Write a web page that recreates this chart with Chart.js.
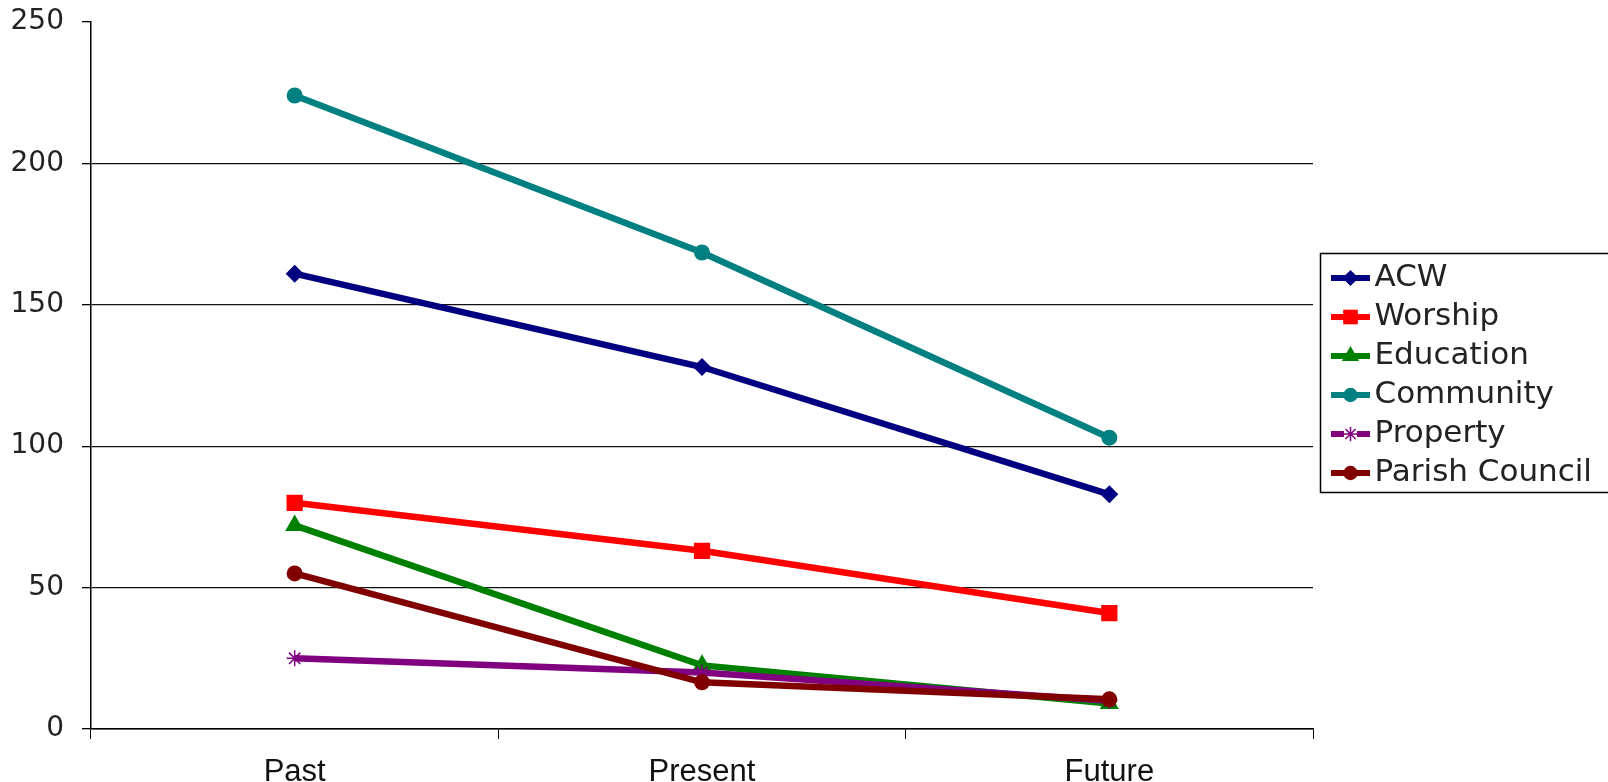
<!DOCTYPE html>
<html>
<head>
<meta charset="utf-8">
<script src="https://cdn.jsdelivr.net/npm/chart.js@4/dist/chart.umd.min.js"></script>
<style>
  html, body { margin: 0; padding: 0; background: #fff; }
  #wrap { width: 1608px; height: 782px; position: relative; }
</style>
</head>
<body>
<div id="wrap"><canvas id="grafico"></canvas></div>
<script>
  // dados
  const categorias = ["Past", "Present", "Future"];
  const acw = [161, 128, 83];
  const worship = [80, 63, 41];
  const education = [72, 22.5, 9];
  const community = [224, 168.5, 103];
  const property = [25, 20, 10];
  const parishCouncil = [55, 16.5, 10.5];
  const yMin = 0, yMax = 250, yPasso = 50;

  const series = [
    { label: "ACW", data: acw, cor: "#000080", estilo: "rectRot", raio: 9 },
    { label: "Worship", data: worship, cor: "#ff0000", estilo: "rect", raio: 11.5 },
    { label: "Education", data: education, cor: "#008000", estilo: "triangle", raio: 11 },
    { label: "Community", data: community, cor: "#008080", estilo: "circle", raio: 8 },
    { label: "Property", data: property, cor: "#800080", estilo: "star", raio: 8 },
    { label: "Parish Council", data: parishCouncil, cor: "#800000", estilo: "circle", raio: 8 },
  ];

  // desenha o marcador num canvas qualquer
  function desenhaMarcador(ctx, estilo, r, x, y, cor) {
    ctx.fillStyle = cor;
    ctx.strokeStyle = cor;
    ctx.beginPath();
    if (estilo === "rectRot") {
      ctx.moveTo(x, y - r); ctx.lineTo(x + r, y); ctx.lineTo(x, y + r); ctx.lineTo(x - r, y);
      ctx.closePath(); ctx.fill();
    } else if (estilo === "rect") {
      const s = r * Math.SQRT1_2;
      ctx.rect(x - s, y - s, 2 * s, 2 * s); ctx.fill();
    } else if (estilo === "triangle") {
      ctx.moveTo(x, y - r); ctx.lineTo(x + r * 0.87, y + r * 0.5); ctx.lineTo(x - r * 0.87, y + r * 0.5);
      ctx.closePath(); ctx.fill();
    } else if (estilo === "circle") {
      ctx.arc(x, y, r, 0, Math.PI * 2); ctx.fill();
    } else if (estilo === "star") {
      ctx.lineWidth = 1.5;
      ctx.moveTo(x - r, y); ctx.lineTo(x + r, y);
      ctx.moveTo(x, y - r); ctx.lineTo(x, y + r);
      const d = r * 0.7;
      ctx.moveTo(x - d, y - d); ctx.lineTo(x + d, y + d);
      ctx.moveTo(x + d, y - d); ctx.lineTo(x - d, y + d);
      ctx.stroke();
    }
  }

  // ícone da legenda: linha com marcador no meio
  function iconeLegenda(s) {
    const c = document.createElement("canvas");
    c.width = 80; c.height = 24;
    const ctx = c.getContext("2d");
    ctx.strokeStyle = s.cor;
    ctx.lineWidth = 6;
    ctx.beginPath(); ctx.moveTo(31, 12); ctx.lineTo(70, 12); ctx.stroke();
    if (s.estilo === "star") {
      ctx.strokeStyle = "#ffffff"; ctx.lineWidth = 6;
      ctx.beginPath(); ctx.moveTo(44, 12); ctx.lineTo(57, 12); ctx.stroke();
    }
    desenhaMarcador(ctx, s.estilo, s.raio * 0.9, 50.5, 12, s.cor);
    return c;
  }
  const icones = series.map(iconeLegenda);

  const bordaLegenda = {
    id: "bordaLegenda",
    beforeInit(chart) {
      const fitOriginal = chart.legend.fit;
      chart.legend.fit = function () {
        fitOriginal.call(this);
        this.width = 295;
      };
    },
    afterDraw(chart) {
      const hb = chart.legend.legendHitBoxes;
      if (!hb || !hb.length) return;
      const ctx = chart.ctx;
      const primeiro = hb[0].top + hb[0].height / 2;
      const ultimo = hb[hb.length - 1].top + hb[hb.length - 1].height / 2;
      const topo = Math.round(primeiro - 25) + 0.5;
      const base = Math.round(ultimo + 19) + 0.5;
      ctx.save();
      ctx.strokeStyle = "#000";
      ctx.lineWidth = 1.5;
      ctx.strokeRect(1320.5, topo, 400, base - topo);
      ctx.restore();
    },
  };

  new Chart(document.getElementById("grafico"), {
    type: "line",
    data: {
      labels: categorias,
      datasets: series.map((s, i) => ({
        label: s.label,
        data: s.data,
        borderColor: s.cor,
        backgroundColor: s.cor,
        borderWidth: 6.5,
        pointStyle: s.estilo,
        pointRadius: s.raio,
        pointBorderWidth: s.estilo === "star" ? 1.5 : 0,
        pointBorderColor: s.cor,
        pointBackgroundColor: s.cor,
        tension: 0,
        order: series.length - i,
      })),
    },
    options: {
      responsive: true,
      maintainAspectRatio: false,
      animation: false,
      layout: { autoPadding: false, padding: { top: 22, left: 0, right: 0, bottom: 0 } },
      plugins: {
        tooltip: { enabled: false },
        legend: {
          position: "right",
          fullSize: false,
          labels: {
            usePointStyle: true,
            pointStyleWidth: 38,
            boxHeight: 24,
            padding: 8,
            color: "#222",
            font: { family: "'DejaVu Sans'", size: 31, lineHeight: 1.12 },
            generateLabels: (chart) =>
              series.map((s, i) => ({
                text: s.label,
                pointStyle: icones[i],
                fillStyle: s.cor,
                strokeStyle: s.cor,
                lineWidth: 0,
                hidden: false,
                datasetIndex: i,
                fontColor: "#222",
              })),
          },
        },
      },
      scales: {
        x: {
          offset: true,
          afterFit: (s) => { s.height = 53; },
          grid: {
            offset: true,
            drawOnChartArea: false,
            drawTicks: true,
            tickLength: 10,
            tickColor: "#000",
          },
          border: { display: true, color: "#000", width: 1.5 },
          ticks: {
            color: "#111",
            padding: 18,
            font: { family: "'Liberation Sans'", size: 31, lineHeight: 1 },
          },
        },
        y: {
          min: yMin,
          max: yMax,
          afterFit: (s) => { s.width = 91; s.paddingTop = 0; s.paddingBottom = 0; },
          ticks: {
            stepSize: yPasso,
            color: "#222",
            padding: 18,
            font: { family: "'DejaVu Sans'", size: 28 },
          },
          grid: {
            color: (c) => (c.tick && c.tick.value === yMax ? "rgba(0,0,0,0)" : "#111"),
            tickColor: "#000",
            lineWidth: 1.3,
            tickLength: 9,
          },
          border: { display: true, color: "#000", width: 1.5 },
        },
      },
    },
    plugins: [bordaLegenda],
  });
</script>
</body>
</html>
